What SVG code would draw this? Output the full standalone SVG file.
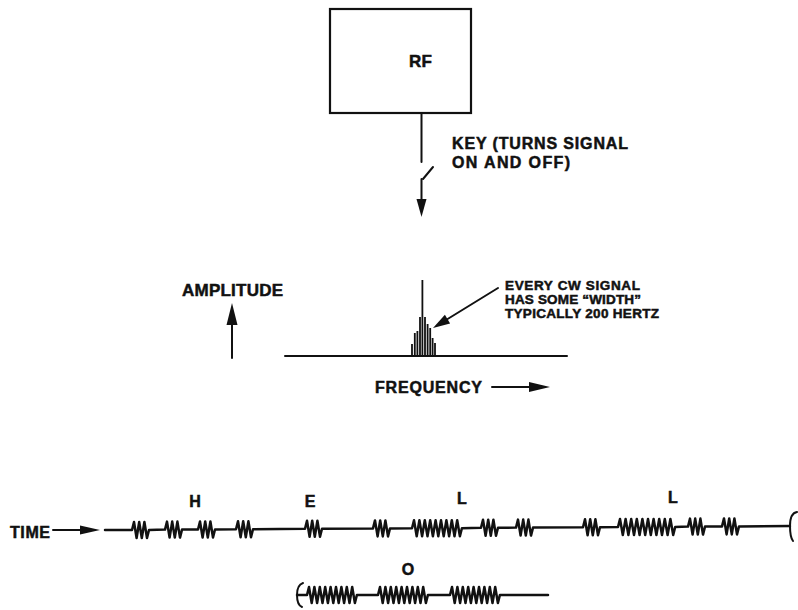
<svg xmlns="http://www.w3.org/2000/svg" width="798" height="610" viewBox="0 0 798 610">
<style>
text{font-family:"Liberation Sans",Arial,Helvetica,sans-serif;font-weight:bold;fill:#111;stroke:#111;stroke-width:0.5}
.ln{fill:none;stroke:#111;stroke-width:2;stroke-linecap:round;stroke-linejoin:round}
.sig{fill:none;stroke:#111;stroke-width:2.5;stroke-linejoin:round;stroke-linecap:round}
.bar{stroke:#111;stroke-width:1.8}
.ah{fill:#111;stroke:none}
</style>
<rect width="798" height="610" fill="#fff"/>
<g id="rf">
<rect x="330" y="9" width="141" height="104" fill="none" stroke="#111" stroke-width="2.2"/>
<text x="409" y="67" font-size="17" textLength="23">RF</text>
</g>
<g id="key-label">
<text x="452" y="149" font-size="16" textLength="176">KEY (TURNS SIGNAL</text>
<text x="452" y="168" font-size="16" textLength="118">ON AND OFF)</text>
</g>
<g id="amplitude">
<text x="182" y="296" font-size="17" textLength="101">AMPLITUDE</text>
</g>
<g id="width-label">
<text x="505" y="290" font-size="13.5" textLength="135">EVERY CW SIGNAL</text>
<text x="505" y="304" font-size="13.5" textLength="136">HAS SOME “WIDTH”</text>
<text x="505" y="318" font-size="13.5" textLength="154">TYPICALLY 200 HERTZ</text>
</g>
<g id="frequency">
<text x="375" y="393" font-size="16" textLength="107">FREQUENCY</text>
</g>
<g id="spectrum">
<line class="ln" x1="285" y1="356" x2="567" y2="356"/>
<line class="bar" x1="412" y1="356" x2="412" y2="344"/>
<line class="bar" x1="414.8" y1="356" x2="414.8" y2="333"/>
<line class="bar" x1="417.4" y1="356" x2="417.4" y2="331"/>
<line class="bar" x1="420" y1="356" x2="420" y2="317"/>
<line class="bar" x1="422.4" y1="356" x2="422.4" y2="280"/>
<line class="bar" x1="425" y1="356" x2="425" y2="317"/>
<line class="bar" x1="427.6" y1="356" x2="427.6" y2="324"/>
<line class="bar" x1="430.2" y1="356" x2="430.2" y2="328"/>
<line class="bar" x1="432.6" y1="356" x2="432.6" y2="338"/>
<line class="bar" x1="435" y1="356" x2="435" y2="343"/>
</g>
<g id="time-label">
<text x="10" y="538" font-size="16" textLength="40">TIME</text>
</g>
<g id="letters" font-size="16">
<text x="195" y="507" text-anchor="middle">H</text>
<text x="310" y="507" text-anchor="middle">E</text>
<text x="462" y="504" text-anchor="middle">L</text>
<text x="673" y="503" text-anchor="middle">L</text>
<text x="408" y="575" text-anchor="middle">O</text>
</g>
<g id="signal-line">
<path class="sig" d="M105 530 L132 530 l2 -8 l2.6 16 l2.6 -16 l2.6 16 l2.6 -16 l2.6 16 l2 -8 L165 529.6 l2 -8 l2.6 16 l2.6 -16 l2.6 16 l2.6 -16 l2.6 16 l2 -8 L198 529.5 l2 -8 l2.6 16 l2.6 -16 l2.6 16 l2.6 -16 l2.6 16 l2 -8 L236 529.2 l2 -8 l2.6 16 l2.6 -16 l2.6 16 l2.6 -16 l2.6 16 l2 -8 L305 528.8 l2 -8 l2.6 16 l2.6 -16 l2.6 16 l2.6 -16 l2.6 16 l2 -8 L373 528.4 l2 -8 l2.6 16 l2.6 -16 l2.6 16 l2.6 -16 l2.6 16 l2 -8 L412 528.2 l2 -8 l2.7 16 l2.7 -16 l2.7 16 l2.7 -16 l2.7 16 l2.7 -16 l2.7 16 l2.7 -16 l2.7 16 l2.7 -16 l2.7 16 l2.7 -16 l2.7 16 l2.7 -16 l2.7 16 l2.7 -16 l2.7 16 l2 -8 L481 527.8 l2 -8 l2.6 16 l2.6 -16 l2.6 16 l2.6 -16 l2.6 16 l2 -8 L516 527.6 l2 -8 l2.6 16 l2.6 -16 l2.6 16 l2.6 -16 l2.6 16 l2 -8 L583 527.2 l2 -8 l2.6 16 l2.6 -16 l2.6 16 l2.6 -16 l2.6 16 l2 -8 L618 527 l2 -8 l2.8 16 l2.8 -16 l2.8 16 l2.8 -16 l2.8 16 l2.8 -16 l2.8 16 l2.8 -16 l2.8 16 l2.8 -16 l2.8 16 l2.8 -16 l2.8 16 l2.8 -16 l2.8 16 l2.8 -16 l2.8 16 l2.8 -16 l2.8 16 l2 -8 L688 526.6 l2 -8 l2.6 16 l2.6 -16 l2.6 16 l2.6 -16 l2.6 16 l2 -8 L722 526.4 l2 -8 l2.6 16 l2.6 -16 l2.6 16 l2.6 -16 l2.6 16 l2 -8 L790 526"/>
<path class="ln" d="M797 512 Q790 513 790 526 Q790 537 793 541"/>
</g>
<g id="o-line">
<path class="ln" d="M303 583 Q297 585 297 595 Q297 605 302 607"/>
<path class="sig" d="M297 595 L307 595 l2 -8 l2.7 16 l2.7 -16 l2.7 16 l2.7 -16 l2.7 16 l2.7 -16 l2.7 16 l2.7 -16 l2.7 16 l2.7 -16 l2.7 16 l2.7 -16 l2.7 16 l2.7 -16 l2.7 16 l2.7 -16 l2.7 16 l2 -8 L378 595 l2 -8 l2.7 16 l2.7 -16 l2.7 16 l2.7 -16 l2.7 16 l2.7 -16 l2.7 16 l2.7 -16 l2.7 16 l2.7 -16 l2.7 16 l2.7 -16 l2.7 16 l2.7 -16 l2.7 16 l2.7 -16 l2.7 16 l2 -8 L450 595 l2 -8 l2.7 16 l2.7 -16 l2.7 16 l2.7 -16 l2.7 16 l2.7 -16 l2.7 16 l2.7 -16 l2.7 16 l2.7 -16 l2.7 16 l2.7 -16 l2.7 16 l2.7 -16 l2.7 16 l2.7 -16 l2.7 16 l2 -8 L548 595"/>
</g>
<g id="connectors">
<line class="ln" x1="421.5" y1="113" x2="421.5" y2="162"/>
<line class="ln" x1="423" y1="179" x2="433" y2="167"/>
<line class="ln" x1="421.5" y1="179" x2="421.5" y2="202"/>
<polygon class="ah" points="421.5,217 416.5,199 426.5,199"/>
<line class="ln" x1="232" y1="358" x2="232" y2="320"/>
<polygon class="ah" points="232,303 226.5,325 237.5,325"/>
<line class="ln" x1="492" y1="387" x2="533" y2="387"/>
<polygon class="ah" points="550,387 529,382 529,392"/>
<line class="ln" x1="498" y1="288" x2="446" y2="320"/>
<polygon class="ah" points="433,328 450.1,323.4 444.9,314.8"/>
<line class="ln" x1="53" y1="530" x2="86" y2="530"/>
<polygon class="ah" points="100,530 80,525.5 80,534.5"/>
</g>
</svg>
